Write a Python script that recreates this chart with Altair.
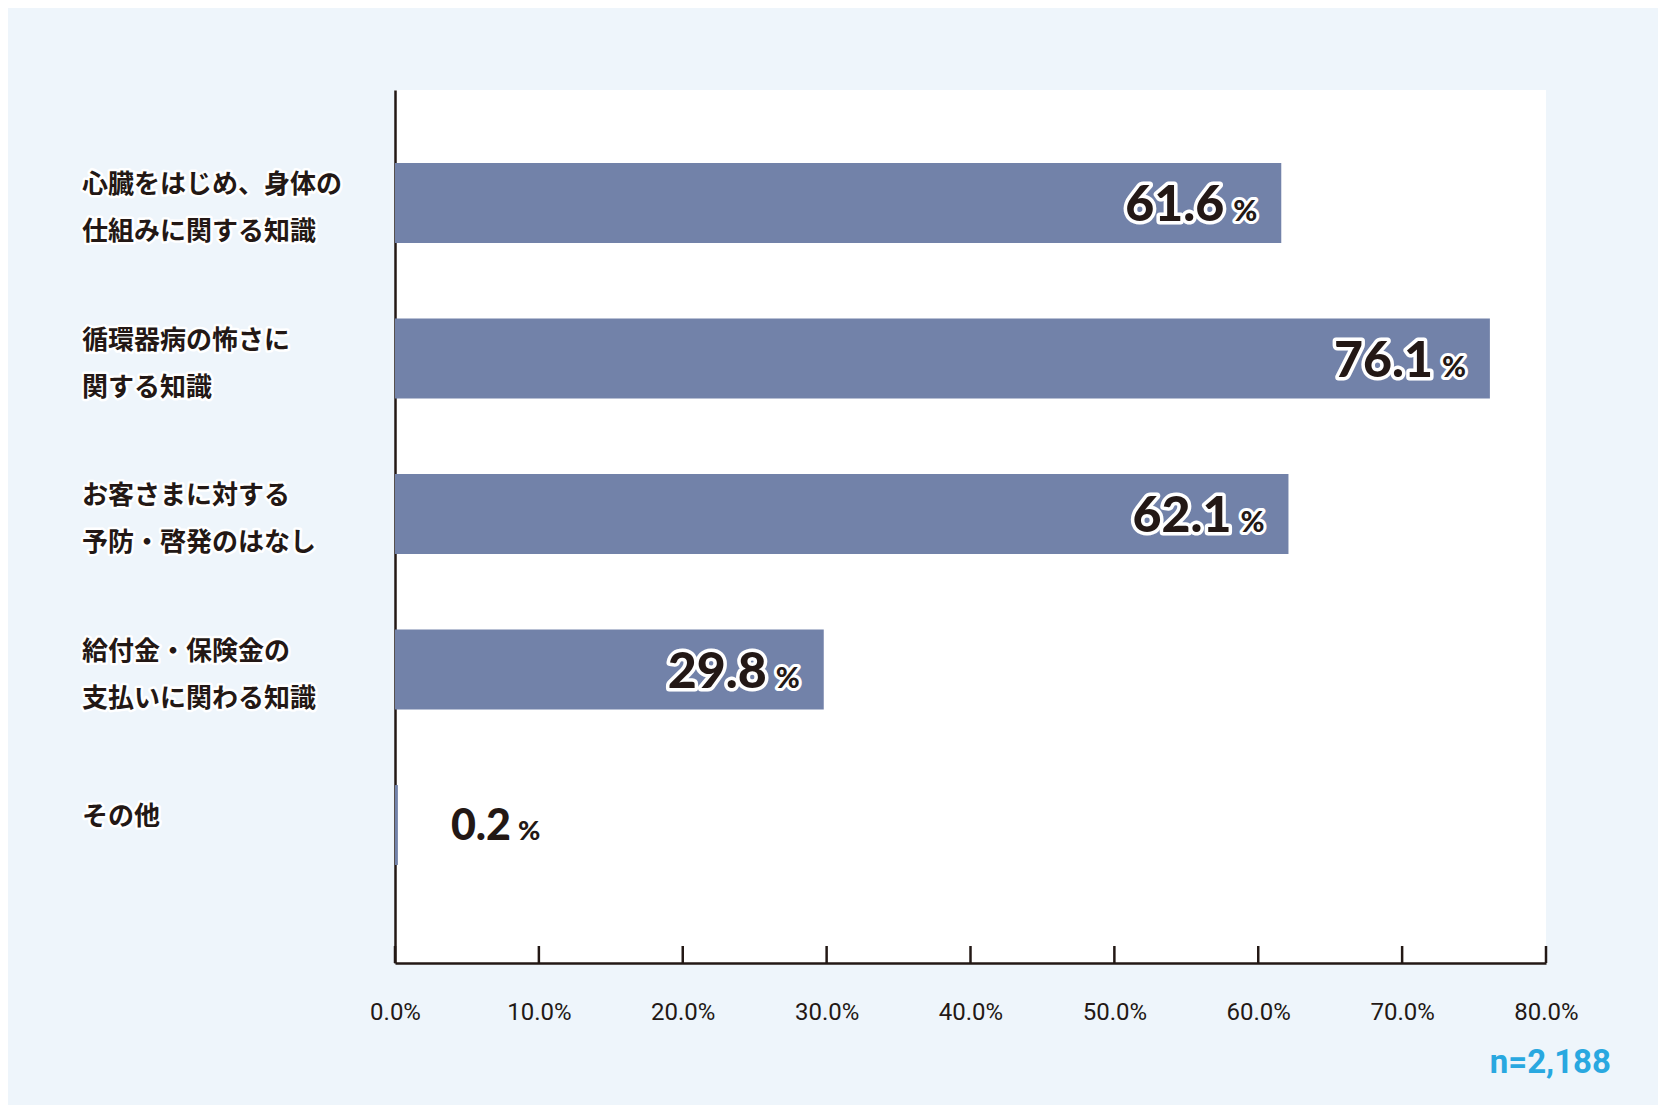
import altair as alt
import pandas as pd

categories = ["心臓をはじめ、身体の\n仕組みに関する知識", "循環器病の怖さに\n関する知識",
              "お客さまに対する\n予防・啓発のはなし", "給付金・保険金の\n支払いに関わる知識", "その他"]
values = [61.6, 76.1, 62.1, 29.8, 0.2]
tick_values = [0, 10, 20, 30, 40, 50, 60, 70, 80]
note = "n=2,188"

DARK = "#231815"
BAR = "#7282A9"
BG = "#EEF5FB"
W, H = 1151, 873

df = pd.DataFrame({"cat": categories, "value": values})
df["num"] = [f"{v:.1f}" for v in values]
ticks = pd.DataFrame({"t": tick_values})

xscale = alt.Scale(domain=[0, 80], nice=False, zero=True)
yscale = alt.Scale(paddingInner=0.486, paddingOuter=0.55, align=0.427)

base = alt.Chart(df)
ysort = alt.Y("cat:N", sort=categories)
y = alt.Y("cat:N", sort=categories, scale=yscale, title=None,
          axis=alt.Axis(labels=False, ticks=False, domain=True, domainColor=DARK,
                        domainWidth=2.5, grid=False))
x = alt.X("value:Q", scale=xscale, title=None,
          axis=alt.Axis(values=tick_values, labelExpr="format(datum.value, '.1f') + '%'",
                        tickSize=0, domain=True, domainColor=DARK, domainWidth=2.5,
                        grid=False, labelPadding=37, labelFont="Roboto", labelFontSize=24,
                        labelColor=DARK, labelFlush=False))

bars = base.mark_bar(color=BAR).encode(x=x, y=y)

tick_rules = alt.Chart(ticks).mark_rule(color=DARK, strokeWidth=2.5).encode(
    x=alt.X("t:Q", scale=xscale), y=alt.value(H - 17), y2=alt.value(H))

inside = base.transform_filter("datum.value > 5")
outside = base.transform_filter("datum.value <= 5")

num_kw = dict(font="Lato", fontWeight=900, fontSize=50, align="right", baseline="alphabetic", dy=18)
pct_kw = dict(font="Lato", fontWeight=900, fontSize=29, align="right", baseline="alphabetic", dy=18)

num_halo = inside.mark_text(dx=-57, stroke="white", strokeWidth=7, strokeJoin="round", fill="white", **num_kw).encode(
    x="value:Q", y=ysort, text="num:N")
num_txt = inside.mark_text(dx=-57, fill=DARK, **num_kw).encode(
    x="value:Q", y=ysort, text="num:N")
pct_halo = inside.mark_text(dx=-24, stroke="white", strokeWidth=6, strokeJoin="round", fill="white", **pct_kw).encode(
    x="value:Q", y=ysort, text=alt.value("%"))
pct_txt = inside.mark_text(dx=-24, fill=DARK, **pct_kw).encode(
    x="value:Q", y=ysort, text=alt.value("%"))

out_num = outside.mark_text(dx=53, fill=DARK, font="Lato", fontWeight=900, fontSize=43,
                            align="left", baseline="alphabetic", dy=15).encode(
    x="value:Q", y=ysort, text="num:N")
out_pct = outside.mark_text(dx=120, fill=DARK, font="Lato", fontWeight=900, fontSize=27,
                            align="left", baseline="alphabetic", dy=15).encode(
    x="value:Q", y=ysort, text=alt.value("%"))

multi = base.transform_filter("indexof(datum.cat, '\\n') >= 0")
single = base.transform_filter("indexof(datum.cat, '\\n') < 0")

lab_kw = dict(font="Noto Sans CJK JP", fontWeight="bold", fontSize=26, align="left",
              baseline="middle", lineBreak="\n", lineHeight=47)
layers_lab = []
for src, dy in ((multi, -18), (single, -8)):
    layers_lab.append(src.mark_text(stroke="white", strokeWidth=5, strokeJoin="round", fill="white",
                                    dy=dy, **lab_kw).encode(
        x=alt.value(82 - 395), y=ysort, text="cat:N"))
    layers_lab.append(src.mark_text(fill=DARK, dy=dy, **lab_kw).encode(
        x=alt.value(82 - 395), y=ysort, text="cat:N"))

note_txt = alt.Chart(pd.DataFrame({"t": [note]})).mark_text(
    font="Roboto", fontWeight="bold", fontSize=33, color="#29A8E0", align="right", baseline="middle").encode(
    x=alt.value(1611 - 395), y=alt.value(1063 - 90), text="t:N")

chart = alt.layer(bars, tick_rules, num_halo, num_txt, pct_halo, pct_txt, out_num, out_pct,
                  *layers_lab, note_txt).properties(
    width=W, height=H,
    autosize=alt.AutoSizeParams(type="none"),
    padding={"left": 387, "top": 82, "right": 112, "bottom": 142},
    background=BG,
).configure_view(fill="white", stroke=None)

chart.save("out.html", embed_options={"renderer": "svg", "actions": False})
